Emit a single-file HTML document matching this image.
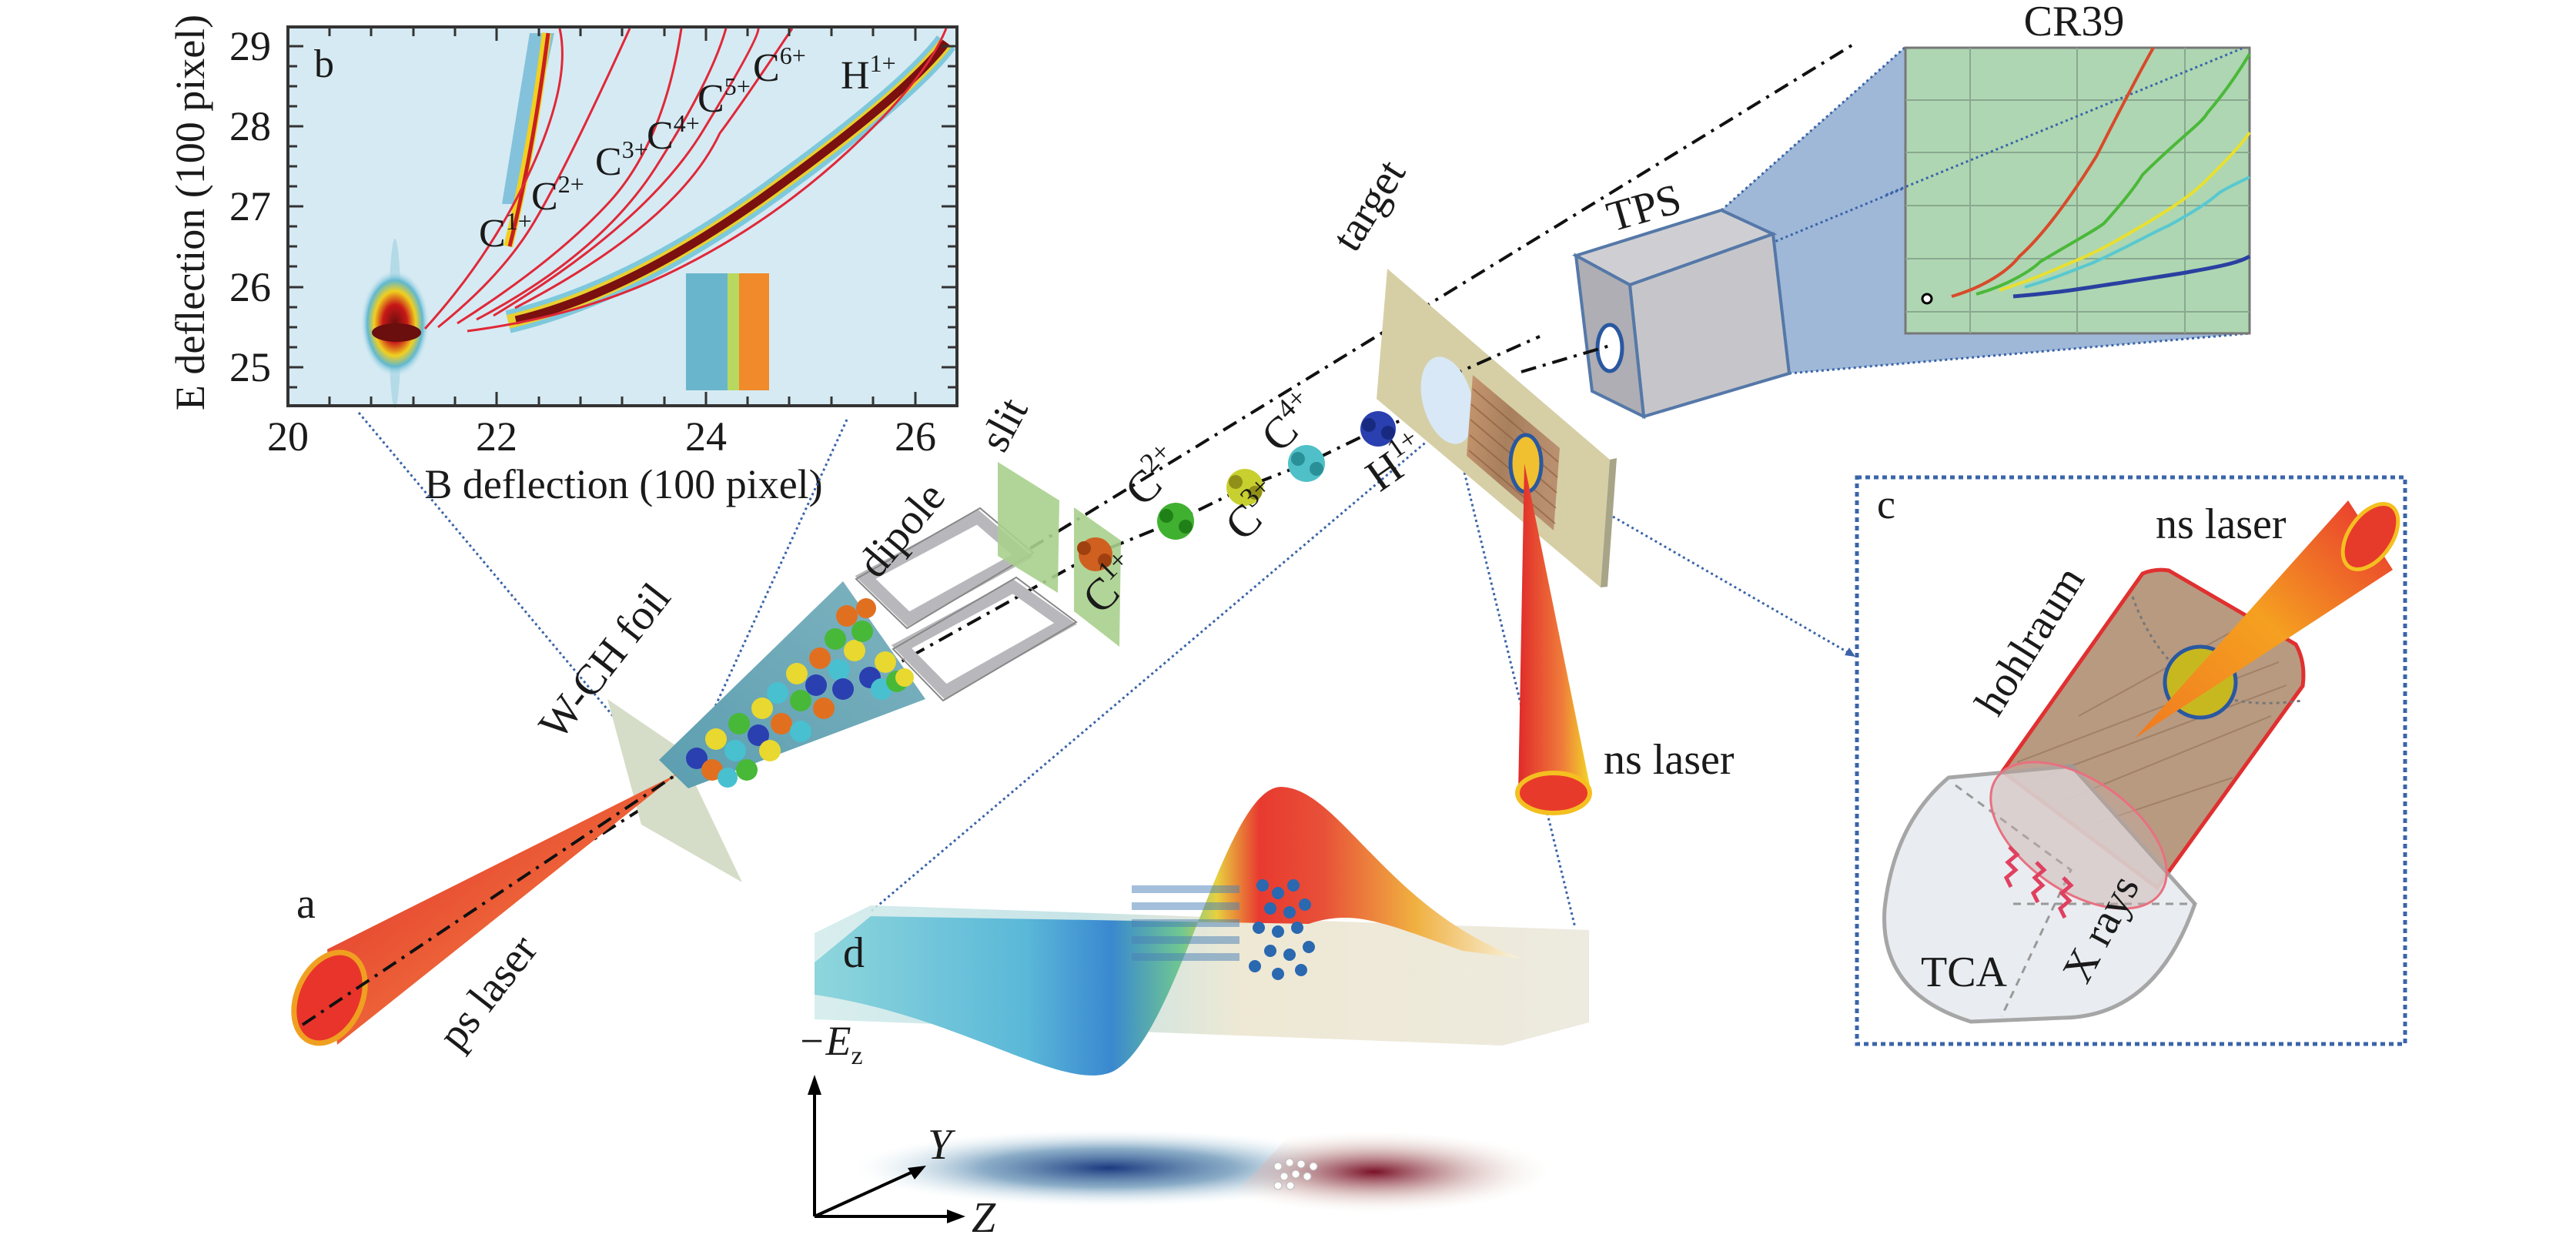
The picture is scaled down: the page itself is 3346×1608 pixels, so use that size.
<!DOCTYPE html>
<html><head><meta charset="utf-8"><style>
html,body{margin:0;padding:0;background:#fff}
svg{display:block}
svg text{font-family:"Liberation Serif","DejaVu Serif",serif;fill:#1a1a1a}
</style></head><body>
<svg width="3346" height="1608" viewBox="0 0 3346 1608" xmlns="http://www.w3.org/2000/svg" font-family="'Liberation Serif', 'DejaVu Serif', serif">
<defs>
<linearGradient id="laser" x1="0" y1="0" x2="1" y2="1"><stop offset="0" stop-color="#e02a2a"/><stop offset="0.6" stop-color="#ee6a3a"/><stop offset="1" stop-color="#f4d020"/></linearGradient>
<linearGradient id="laser2" x1="0" y1="0" x2="1" y2="0"><stop offset="0" stop-color="#e02a2a"/><stop offset="0.6" stop-color="#ef7a3a"/><stop offset="1" stop-color="#f2d828"/></linearGradient>
<linearGradient id="laser3" x1="0" y1="1" x2="1" y2="0"><stop offset="0" stop-color="#f07a20"/><stop offset="0.5" stop-color="#f5a020"/><stop offset="1" stop-color="#e83030"/></linearGradient>
<linearGradient id="slab" x1="0" y1="0" x2="1" y2="0"><stop offset="0" stop-color="#d4ecec"/><stop offset="0.35" stop-color="#bfe0e4"/><stop offset="0.55" stop-color="#ece6cf"/><stop offset="1" stop-color="#ebe8dc"/></linearGradient>
<linearGradient id="wave" x1="1058" y1="0" x2="1975" y2="0" gradientUnits="userSpaceOnUse">
<stop offset="0" stop-color="#8fd6dc"/><stop offset="0.3" stop-color="#5ab8d8"/><stop offset="0.42" stop-color="#3a88d0"/><stop offset="0.52" stop-color="#70c890"/><stop offset="0.57" stop-color="#e8d040"/><stop offset="0.63" stop-color="#e83a30"/><stop offset="0.72" stop-color="#e85038"/><stop offset="0.85" stop-color="#f0b040"/><stop offset="1" stop-color="#f8f4e0"/></linearGradient>
<radialGradient id="blue" cx="0.5" cy="0.5" r="0.5"><stop offset="0" stop-color="#1a3a80"/><stop offset="0.5" stop-color="#5a8ab0" stop-opacity="0.7"/><stop offset="1" stop-color="#d8ecf2" stop-opacity="0"/></radialGradient>
<radialGradient id="red" cx="0.45" cy="0.5" r="0.5"><stop offset="0" stop-color="#7a1028"/><stop offset="0.5" stop-color="#c8a0a0" stop-opacity="0.7"/><stop offset="1" stop-color="#f4eee4" stop-opacity="0"/></radialGradient>
<radialGradient id="blob" cx="0.5" cy="0.5" r="0.5"><stop offset="0" stop-color="#6a0e0e"/><stop offset="0.35" stop-color="#c81818"/><stop offset="0.6" stop-color="#f0d020"/><stop offset="0.8" stop-color="#60b8d0"/><stop offset="1" stop-color="#d4e9f3" stop-opacity="0"/></radialGradient>
<linearGradient id="wood" x1="0" y1="0" x2="1" y2="0.3"><stop offset="0" stop-color="#c89870"/><stop offset="0.5" stop-color="#a8805e"/><stop offset="1" stop-color="#b89070"/></linearGradient>
<linearGradient id="cone" x1="0" y1="1" x2="1" y2="0"><stop offset="0" stop-color="#5b9eb0"/><stop offset="1" stop-color="#7fb3c0"/></linearGradient>
</defs>

<!-- ===== Plot b ===== -->
<rect x="374" y="35" width="869" height="492" fill="#d6eaf3"/>
<ellipse cx="513" cy="420" rx="8" ry="110" fill="#9ccfe0" opacity="0.6"/>
<path d="M688,43 L720,43 L672,265 L652,265 Z" fill="#6fb8d4" opacity="0.8"/>
<path d="M710,43 Q690,200 660,320" stroke="#f0d020" stroke-width="12" fill="none"/>
<path d="M712,43 Q692,200 662,320" stroke="#c82020" stroke-width="5" fill="none"/>
<rect x="891" y="355" width="108" height="152" fill="#69b6cc"/>
<rect x="945" y="355" width="20" height="152" fill="#b8d860"/>
<rect x="960" y="355" width="39" height="152" fill="#f08a2a"/>
<path d="M660,418 Q820,380 1000,250 T1229,55" stroke="#7ec8dc" stroke-width="30" fill="none"/>
<path d="M660,418 Q820,380 1000,250 T1229,55" stroke="#e8d030" stroke-width="18" fill="none"/>
<path d="M670,416 Q820,380 1000,250 T1229,55" stroke="#7a1010" stroke-width="11" fill="none"/>
<ellipse cx="513" cy="420" rx="45" ry="70" fill="url(#blob)"/>
<ellipse cx="515" cy="432" rx="32" ry="12" fill="#6a0e0e"/>
<g stroke="#e02838" stroke-width="3" fill="none">
<path d="M552,427 Q640,330 691,217 T727,37"/>
<path d="M569,425 Q650,360 691,293 T818,37"/>
<path d="M594,420 Q720,340 791,263 T885,37"/>
<path d="M619,415 Q780,330 852,217 T943,37"/>
<path d="M641,410 Q840,290 913,170 T985,37"/>
<path d="M669,400 Q880,290 935,173 Q960,140 1029,37"/>
<path d="M607,430 Q760,410 879,350 Q1000,290 1101,197 T1229,37"/>
</g>
<rect x="374" y="35" width="869" height="492" fill="none" stroke="#333" stroke-width="4"/>
<g stroke="#333" stroke-width="3">
<path d="M428,35v12M482,35v12M537,35v12M591,35v12M645,35v18M700,35v12M754,35v12M808,35v12M863,35v12M917,35v18M971,35v12M1025,35v12M1080,35v12M1134,35v12M1189,35v18"/>
<path d="M428,527v-12M482,527v-12M537,527v-12M591,527v-12M645,527v-18M700,527v-12M754,527v-12M808,527v-12M863,527v-12M917,527v-18M971,527v-12M1025,527v-12M1080,527v-12M1134,527v-12M1189,527v-18"/>
<path d="M374,60h20M374,86h12M374,112h12M374,138h12M374,164h20M374,190h12M374,216h12M374,242h12M374,268h20M374,294h12M374,320h12M374,346h12M374,373h20M374,399h12M374,425h12M374,451h12M374,477h20M374,503h12"/>
<path d="M1243,60h-20M1243,86h-12M1243,112h-12M1243,138h-12M1243,164h-20M1243,190h-12M1243,216h-12M1243,242h-12M1243,268h-20M1243,294h-12M1243,320h-12M1243,346h-12M1243,373h-20M1243,399h-12M1243,425h-12M1243,451h-12M1243,477h-20M1243,503h-12"/>
</g>
<g font-size="54" text-anchor="end">
<text x="352" y="78">29</text><text x="352" y="182">28</text><text x="352" y="286">27</text><text x="352" y="391">26</text><text x="352" y="495">25</text>
</g>
<g font-size="54" text-anchor="middle">
<text x="374" y="585">20</text><text x="645" y="585">22</text><text x="917" y="585">24</text><text x="1189" y="585">26</text>
</g>
<text x="810" y="647" font-size="54" text-anchor="middle">B deflection (100 pixel)</text>
<text transform="translate(265,276) rotate(-90)" font-size="54" text-anchor="middle">E deflection (100 pixel)</text>
<text x="408" y="100" font-size="52">b</text>
<g font-size="52">
<text x="622" y="320">C<tspan font-size="32" dy="-22">1+</tspan></text>
<text x="690" y="272">C<tspan font-size="32" dy="-22">2+</tspan></text>
<text x="773" y="227">C<tspan font-size="32" dy="-22">3+</tspan></text>
<text x="840" y="193">C<tspan font-size="32" dy="-22">4+</tspan></text>
<text x="906" y="145">C<tspan font-size="32" dy="-22">5+</tspan></text>
<text x="978" y="105">C<tspan font-size="32" dy="-22">6+</tspan></text>
<text x="1092" y="115">H<tspan font-size="32" dy="-22">1+</tspan></text>
</g>

<!-- dotted lines -->
<g stroke="#3a64a8" stroke-width="3" stroke-dasharray="3 4" fill="none">
<line x1="466" y1="536" x2="875" y2="1024"/>
<line x1="1100" y1="545" x2="904" y2="972"/>
<line x1="1888" y1="544" x2="1130" y2="1185"/>
<line x1="1884" y1="539" x2="2046" y2="1205"/>
<line x1="2095" y1="671" x2="2405" y2="850"/>
</g>
<path d="M2410,853 l-14,-2 l6,-10 z" fill="#3a64a8"/>

<!-- ===== CR39 / TPS ===== -->
<polygon points="2236,273 2475,61 2475,433 2922,433 2324,485" fill="#9fb8d8"/>
<g stroke="#3a64a8" stroke-width="3" stroke-dasharray="3 4" fill="none">
<line x1="2236" y1="273" x2="2475" y2="61"/>
<line x1="2324" y1="485" x2="2922" y2="433"/>
<line x1="2300" y1="316" x2="2912" y2="63"/>
</g>
<rect x="2475" y="62" width="447" height="371" fill="#aed6b2" stroke="#777" stroke-width="3"/>
<g stroke="#8aa890" stroke-width="2">
<path d="M2559,62V433M2698,62V433M2838,62V433M2475,130H2922M2475,198H2922M2475,267H2922M2475,336H2922M2475,405H2922"/>
</g>
<line x1="2450" y1="253" x2="2912" y2="63" stroke="#3a64a8" stroke-width="3" stroke-dasharray="3 4"/>
<g fill="none" stroke-width="4">
<path d="M2535,385 C2580,372 2610,350 2623,333 C2660,300 2700,240 2723,203 C2745,160 2770,110 2797,62" stroke="#d84a2a"/>
<path d="M2567,382 C2610,370 2640,350 2650,340 C2700,310 2720,300 2733,290 C2760,260 2775,240 2783,227 C2830,180 2860,160 2867,147 C2890,120 2910,90 2922,70" stroke="#4ab838"/>
<path d="M2597,377 C2650,360 2680,345 2700,337 C2740,320 2770,300 2783,293 C2830,265 2850,250 2867,233 C2890,210 2910,190 2922,172" stroke="#e8e030"/>
<path d="M2630,373 C2680,358 2700,348 2717,342 C2770,318 2790,305 2817,293 C2850,275 2870,262 2883,250 C2900,240 2910,236 2922,230" stroke="#58c8d0"/>
<path d="M2615,385 C2680,380 2720,372 2750,368 C2800,360 2830,356 2850,352 C2890,345 2910,340 2922,333" stroke="#2a40a0" stroke-width="5"/>
</g>
<circle cx="2503" cy="388" r="6" fill="#fff" stroke="#000" stroke-width="3"/>
<text x="2694" y="46" font-size="56" text-anchor="middle">CR39</text>

<!-- dash-dot lines -->
<g stroke="#111" stroke-width="4" stroke-dasharray="20 9 4 9" fill="none">
<line x1="1195" y1="800" x2="2410" y2="56"/>
<polyline points="393,1331 875,1024 1421,720 1527,677 1617,633 1697,602 1790,557 1884,523"/>
</g>

<!-- TPS box -->
<polygon points="2047,332 2236,273 2303,304 2117,370" fill="#cfcfd3" stroke="#5578a8" stroke-width="4"/>
<polygon points="2117,370 2303,304 2324,485 2135,541" fill="#c6c6ca" stroke="#5578a8" stroke-width="4"/>
<polygon points="2047,332 2117,370 2135,541 2068,508" fill="#aeaeb4" stroke="#5578a8" stroke-width="4"/>
<ellipse cx="2091" cy="452" rx="16" ry="30" fill="#fff" stroke="#2a58a0" stroke-width="5"/>
<line x1="1976" y1="483" x2="2091" y2="449" stroke="#111" stroke-width="4" stroke-dasharray="20 9 4 9"/>
<text transform="translate(2094,301) rotate(-16)" font-size="56">TPS</text>

<!-- target -->
<polygon points="1802,349 2091,597 2079,763 1788,518" fill="#d6cfa6"/>
<polygon points="2091,597 2100,595 2088,762 2079,763" fill="#a8a488"/>
<line x1="1880" y1="490" x2="2000" y2="437" stroke="#111" stroke-width="4" stroke-dasharray="20 9 4 9"/>
<ellipse cx="1880" cy="520" rx="32" ry="58" transform="rotate(-15 1880 520)" fill="#d8e8f6"/>
<polygon points="1913,487 2026,582 2018,689 1905,592" fill="url(#wood)"/>
<g stroke="#8a5a3a" stroke-width="2" opacity="0.6">
<path d="M1913,505 L2024,600M1911,525 L2023,620M1910,545 L2022,640M1909,565 L2021,660M1908,585 L2020,680"/>
</g>
<ellipse cx="1982" cy="602" rx="20" ry="37" fill="#f0c030" stroke="#2a58a0" stroke-width="5"/>
<polygon points="1980,602 1972,1031 2066,1025" fill="url(#laser2)"/>
<ellipse cx="2018" cy="1030" rx="47" ry="26" fill="#e83a2a" stroke="#f4c020" stroke-width="6"/>
<text x="2083" y="1005" font-size="56">ns laser</text>
<text transform="translate(1760,330) rotate(-58)" font-size="56">target</text>

<!-- foil & cone -->
<polygon points="789,908 880,970 964,1146 833,1071" fill="#d5ddc8"/>
<polygon points="856,987 1095,755 1202,908 894,1024" fill="url(#cone)"/>
<g>
<circle cx="905" cy="985" r="14" fill="#2a40b0"/><circle cx="930" cy="960" r="14" fill="#e8d830"/><circle cx="955" cy="975" r="14" fill="#48c0d0"/>
<circle cx="925" cy="1000" r="14" fill="#e07020"/><circle cx="960" cy="940" r="14" fill="#48b838"/><circle cx="985" cy="955" r="14" fill="#2a40b0"/>
<circle cx="990" cy="920" r="14" fill="#e8d830"/><circle cx="1015" cy="940" r="14" fill="#e07020"/><circle cx="1010" cy="900" r="14" fill="#48c0d0"/>
<circle cx="1040" cy="910" r="14" fill="#48b838"/><circle cx="1035" cy="875" r="14" fill="#e8d830"/><circle cx="1060" cy="890" r="14" fill="#2a40b0"/>
<circle cx="1065" cy="855" r="14" fill="#e07020"/><circle cx="1090" cy="870" r="14" fill="#48c0d0"/><circle cx="1085" cy="830" r="14" fill="#48b838"/>
<circle cx="1110" cy="845" r="14" fill="#e8d830"/><circle cx="1100" cy="800" r="14" fill="#e07020"/><circle cx="1130" cy="880" r="14" fill="#2a40b0"/>
<circle cx="1120" cy="820" r="14" fill="#48b838"/><circle cx="1150" cy="860" r="14" fill="#e8d830"/><circle cx="1145" cy="895" r="14" fill="#48c0d0"/>
<circle cx="1070" cy="920" r="14" fill="#e07020"/><circle cx="1040" cy="950" r="14" fill="#48c0d0"/><circle cx="1000" cy="975" r="14" fill="#e8d830"/>
<circle cx="970" cy="1000" r="14" fill="#48b838"/><circle cx="1165" cy="885" r="14" fill="#48b838"/><circle cx="1095" cy="895" r="14" fill="#2a40b0"/>
<circle cx="1125" cy="790" r="13" fill="#e07020"/><circle cx="1175" cy="880" r="12" fill="#e8d830"/><circle cx="945" cy="1010" r="13" fill="#48c0d0"/>
</g>
<polygon points="880,1005 425,1233 438,1357" fill="url(#laser)"/>
<ellipse cx="428" cy="1296" rx="42" ry="62" transform="rotate(25 428 1296)" fill="#e8342a" stroke="#f0a020" stroke-width="7"/>
<line x1="393" y1="1331" x2="880" y2="1005" stroke="#111" stroke-width="4" stroke-dasharray="20 9 4 9"/>
<text x="385" y="1192" font-size="56">a</text>
<text transform="translate(648,1300) rotate(-52)" font-size="56" text-anchor="middle">ps laser</text>
<text transform="translate(800,870) rotate(-52)" font-size="56" text-anchor="middle">W-CH foil</text>

<!-- dipole -->
<g fill="none" stroke="#b8b8bc" stroke-width="16" stroke-linejoin="miter">
<polygon points="1124,750 1270,672 1328,722 1180,804"/>
<polygon points="1171,840 1316,762 1384,810 1228,898"/>
</g>
<g fill="none" stroke="#888" stroke-width="2">
<polygon points="1112,752 1273,660 1342,718 1178,816"/>
<polygon points="1160,843 1320,750 1398,808 1225,910"/>
</g>
<text transform="translate(1185,700) rotate(-50)" font-size="56" text-anchor="middle">dipole</text>

<!-- slits -->
<polygon points="1296,600 1376,650 1374,770 1296,722" fill="#a8d08d" opacity="0.9"/>
<polygon points="1395,659 1456,702 1454,840 1395,794" fill="#a8d08d" opacity="0.9"/>
<text transform="translate(1320,560) rotate(-62)" font-size="56" text-anchor="middle">slit</text>

<!-- ion clusters -->
<g>
<circle cx="1423" cy="720" r="22" fill="#d06020"/><circle cx="1408" cy="712" r="9" fill="#a04010"/><circle cx="1435" cy="728" r="9" fill="#a04010"/>
<circle cx="1527" cy="677" r="24" fill="#40b030"/><circle cx="1515" cy="670" r="9" fill="#208018"/><circle cx="1540" cy="684" r="9" fill="#208018"/>
<circle cx="1617" cy="633" r="24" fill="#c8d030"/><circle cx="1605" cy="626" r="9" fill="#909018"/><circle cx="1630" cy="640" r="9" fill="#909018"/>
<circle cx="1697" cy="602" r="24" fill="#50c0c8"/><circle cx="1686" cy="596" r="9" fill="#2a9098"/><circle cx="1710" cy="609" r="9" fill="#2a9098"/>
<circle cx="1790" cy="557" r="23" fill="#2a40b0"/><circle cx="1778" cy="552" r="9" fill="#182a80"/><circle cx="1803" cy="562" r="9" fill="#182a80"/>
</g>
<g font-size="58">
<text transform="translate(1430,800) rotate(-45)">C<tspan font-size="36" dy="-24">1+</tspan></text>
<text transform="translate(1485,660) rotate(-45)">C<tspan font-size="36" dy="-24">2+</tspan></text>
<text transform="translate(1615,705) rotate(-45)">C<tspan font-size="36" dy="-24">3+</tspan></text>
<text transform="translate(1662,590) rotate(-45)">C<tspan font-size="36" dy="-24">4+</tspan></text>
<text transform="translate(1792,640) rotate(-35)">H<tspan font-size="36" dy="-24">1+</tspan></text>
</g>

<!-- ===== panel d ===== -->
<polygon points="1058,1212 1131,1176 2064,1208 2064,1328 1952,1358 1058,1324" fill="url(#slab)" opacity="0.9"/>
<path d="M1058,1250 L1058,1292 C1250,1320 1380,1420 1445,1392 C1530,1350 1590,1022 1664,1022 C1740,1024 1800,1180 1975,1245 L1900,1235 C1800,1200 1760,1180 1700,1200 L1131,1190 Z" fill="url(#wave)"/>
<g fill="#4a80b8" opacity="0.5">
<rect x="1470" y="1150" width="140" height="10"/><rect x="1470" y="1172" width="140" height="10"/><rect x="1470" y="1194" width="140" height="10"/><rect x="1470" y="1216" width="140" height="10"/><rect x="1470" y="1238" width="140" height="10"/>
</g>
<g fill="#2a68b0">
<circle cx="1640" cy="1150" r="8"/><circle cx="1660" cy="1160" r="8"/><circle cx="1680" cy="1150" r="8"/><circle cx="1650" cy="1180" r="8"/><circle cx="1675" cy="1185" r="8"/><circle cx="1695" cy="1175" r="8"/>
<circle cx="1635" cy="1205" r="8"/><circle cx="1660" cy="1210" r="8"/><circle cx="1685" cy="1205" r="8"/><circle cx="1650" cy="1235" r="8"/><circle cx="1675" cy="1240" r="8"/><circle cx="1700" cy="1230" r="8"/>
<circle cx="1630" cy="1255" r="8"/><circle cx="1660" cy="1265" r="8"/><circle cx="1690" cy="1260" r="8"/>
</g>
<text x="1095" y="1256" font-size="56">d</text>
<text x="1036" y="1370" font-size="54" font-style="italic">−E<tspan font-size="34" font-style="normal" dy="12">z</tspan></text>
<ellipse cx="1440" cy="1517" rx="330" ry="50" fill="url(#blue)"/>
<path d="M1680,1470 L1580,1575 L1990,1575 Q2080,1530 1990,1490 Q1850,1465 1680,1470 Z" fill="url(#red)"/>
<g fill="#fff" stroke="#bbb" stroke-width="1">
<circle cx="1660" cy="1515" r="5"/><circle cx="1675" cy="1510" r="5"/><circle cx="1690" cy="1512" r="5"/><circle cx="1668" cy="1528" r="5"/><circle cx="1683" cy="1525" r="5"/><circle cx="1698" cy="1528" r="5"/><circle cx="1660" cy="1540" r="5"/><circle cx="1676" cy="1540" r="5"/><circle cx="1706" cy="1515" r="5"/>
</g>
<g stroke="#000" stroke-width="4" fill="none">
<line x1="1058" y1="1580" x2="1058" y2="1410"/>
<line x1="1058" y1="1580" x2="1240" y2="1580"/>
<line x1="1058" y1="1580" x2="1190" y2="1520"/>
</g>
<path d="M1058,1396 l-9,26 h18 z" fill="#000"/>
<path d="M1254,1580 l-24,-9 v18 z" fill="#000"/>
<path d="M1203,1514 l-24,3 l9,15 z" fill="#000"/>
<text x="1205" y="1505" font-size="56" font-style="italic">Y</text>
<text x="1262" y="1600" font-size="56" font-style="italic">Z</text>

<!-- ===== panel c ===== -->
<rect x="2412" y="620" width="712" height="736" fill="none" stroke="#3a64a8" stroke-width="5" stroke-dasharray="6 5"/>
<text x="2438" y="673" font-size="54">c</text>
<text x="2800" y="699" font-size="56">ns laser</text>
<path d="M2601,1002 L2783,745 Q2800,738 2817,741 L2982,837 Q2995,860 2991,891 L2802,1153 Z" fill="#b89a80" stroke="#e03030" stroke-width="5"/>
<g stroke="#8a6a50" stroke-width="2" opacity="0.5">
<path d="M2620,990 L2960,860M2650,1010 L2970,890M2680,1040 L2950,930M2720,1070 L2900,1010M2700,930 L2900,820"/>
</g>
<path d="M2770,775 Q2800,860 2870,900 Q2920,920 2990,910" fill="none" stroke="#777" stroke-width="3" stroke-dasharray="4 5"/>
<circle cx="2858" cy="886" r="46" fill="#c8b820" stroke="#2a58a0" stroke-width="5"/>
<polygon points="2773,959 3050,650 3108,740" fill="url(#laser3)"/>
<ellipse cx="3079" cy="697" rx="28" ry="48" transform="rotate(35 3079 697)" fill="#e63a2a" stroke="#f4c020" stroke-width="5"/>
<path d="M2531,1010 L2691,995 L2851,1174 Q2800,1320 2680,1322 L2560,1327 Q2440,1290 2448,1180 Q2460,1070 2531,1010 Z" fill="#e6eaee" opacity="0.88" stroke="#9a9a9a" stroke-width="5"/>
<path d="M2615,1174 L2851,1174" stroke="#999" stroke-width="3" stroke-dasharray="10 8"/>
<path d="M2540,1020 L2690,1130 L2600,1320" stroke="#999" stroke-width="3" stroke-dasharray="10 8" fill="none"/>
<ellipse cx="2700" cy="1085" rx="130" ry="72" transform="rotate(35 2700 1085)" fill="#c8b0a8" fill-opacity="0.45" stroke="#e87080" stroke-width="3"/>
<g stroke="#e04060" stroke-width="5" fill="none">
<path d="M2610,1100 l10,10 l-12,10 l10,10 l-12,10 l6,12"/>
<path d="M2645,1120 l10,10 l-12,10 l10,10 l-12,10 l6,12"/>
<path d="M2680,1140 l10,10 l-12,10 l10,10 l-12,10 l6,12"/>
</g>
<text transform="translate(2652,842) rotate(-58)" font-size="56" text-anchor="middle">hohlraum</text>
<text x="2495" y="1281" font-size="56">TCA</text>
<text transform="translate(2745,1215) rotate(-62)" font-size="56" text-anchor="middle">X rays</text>
</svg>
</body></html>
